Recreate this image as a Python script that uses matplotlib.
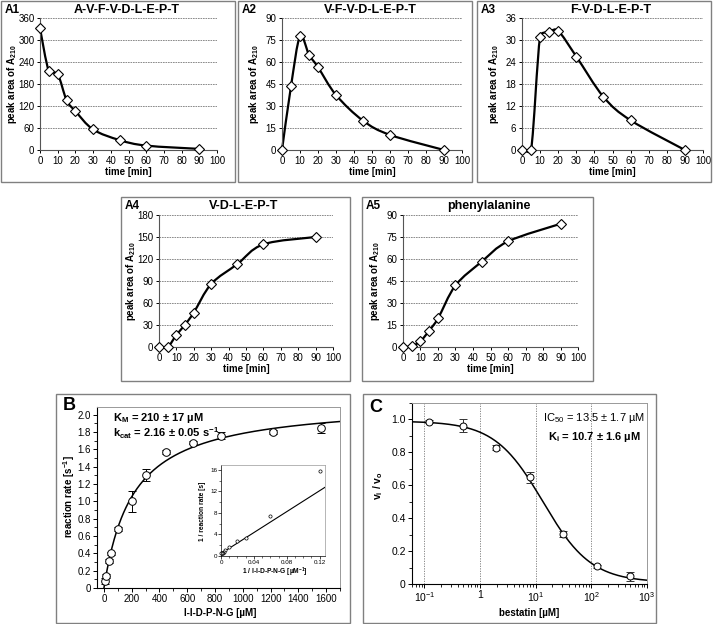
import matplotlib
matplotlib.use("Agg")
import matplotlib.pyplot as plt
import numpy as np
from matplotlib.patches import Rectangle, PathPatch
from matplotlib.path import Path
from matplotlib.ticker import MultipleLocator, FixedLocator, FixedFormatter

plt.rcParams['font.family'] = ['Liberation Sans', 'DejaVu Sans']
plt.rcParams['mathtext.fontset'] = 'custom'
plt.rcParams['mathtext.rm'] = 'Liberation Sans'
plt.rcParams['mathtext.it'] = 'Liberation Sans:italic'
plt.rcParams['mathtext.bf'] = 'Liberation Sans:bold'

# ---- data: panels A1-A5 (time course, peak area of A210)
time_min = [0, 5, 10, 15, 20, 30, 45, 60, 90]
a1_area = [332, 215, 207, 136, 106, 56, 27, 12, 3]
a2_area = [0, 43.5, 77.4, 65, 56.5, 37.5, 20, 10.3, 0]
a3_area = [0, 0, 30.9, 32.3, 32.5, 25.5, 14.5, 8.1, 0]
a4_area = [0, 0, 16.5, 30.5, 47, 86, 113, 140, 150]
a5_area = [0, 0.5, 4, 11.2, 19.5, 42, 58.2, 72, 84]

a_titles = ['A-V-F-V-D-L-E-P-T', 'V-F-V-D-L-E-P-T', 'F-V-D-L-E-P-T',
            'V-D-L-E-P-T', 'phenylalanine']
a_names = ['A1', 'A2', 'A3', 'A4', 'A5']
a_ymax = [360, 90, 36, 180, 90]
a_ystep = [60, 15, 6, 30, 15]

# ---- data: panel B (Michaelis-Menten)
substrate_uM = [8, 16, 33, 50, 100, 200, 300, 450, 640, 840, 1220, 1560]
rate = [0.08, 0.14, 0.31, 0.40, 0.68, 1.00, 1.30, 1.57, 1.68, 1.76, 1.80, 1.85]
rate_err = [0.03, 0.02, 0.02, 0.02, 0.02, 0.12, 0.07, 0.02, 0.02, 0.04, 0.02, 0.06]
KM = 210.0
kcat = 2.16
inv_substrate = [0.12, 0.06, 0.03, 0.02, 0.01, 0.005, 0.0033, 0.0022, 0.0016, 0.0012, 0.0008, 0.0006]
inv_rate = [15.7, 7.5, 3.3, 2.7, 1.6, 1.05, 0.8, 0.65, 0.6, 0.57, 0.55, 0.54]

# ---- data: panel C (inhibition by bestatin)
bestatin_uM = [0.122, 0.49, 1.95, 7.8, 31.25, 125, 500]
vi_vo = [0.986, 0.962, 0.828, 0.648, 0.305, 0.107, 0.046]
vi_vo_err = [0.01, 0.04, 0.015, 0.035, 0.02, 0.01, 0.025]
IC50 = 13.5

W, H = 713, 624
fig = plt.figure(figsize=(W / 100, H / 100), dpi=100)


def add_ax(l, t, r, b):
    return fig.add_axes([l / W, 1 - b / H, (r - l) / W, (b - t) / H])


def box(l, t, r, b):
    fig.add_artist(Rectangle((l / W, 1 - b / H), (r - l) / W, (b - t) / H,
                             transform=fig.transFigure, fill=False,
                             ec='#808080', lw=1.0))


def ftext(x, y, s, **kw):
    kw.setdefault('va', 'center')
    fig.text(x / W, 1 - y / H, s, **kw)


def smooth_line(ax, x, y):
    # spreadsheet-like smoothed line: Bezier in screen space, handles
    # limited to half of the segment so short steps don't overshoot
    p = ax.transData.transform(np.column_stack([x, y]).astype(float))
    n = len(p)

    def handle(a, b, seg):
        t = (b - a) / 6.0
        L = np.hypot(*t)
        m = 0.5 * np.hypot(*seg)
        if L > m and L > 0:
            t = t * m / L
        return t

    verts = [p[0]]
    codes = [Path.MOVETO]
    for i in range(n - 1):
        p0 = p[i - 1] if i > 0 else p[i]
        p3 = p[i + 2] if i + 2 < n else p[i + 1]
        seg = p[i + 1] - p[i]
        c1 = p[i] + handle(p0, p[i + 1], seg)
        c2 = p[i + 1] - handle(p[i], p3, seg)
        verts += [c1, c2, p[i + 1]]
        codes += [Path.CURVE4] * 3
    verts = ax.transData.inverted().transform(np.array(verts))
    ax.add_patch(PathPatch(Path(verts, codes), fill=False, lw=1.6,
                           ec='black', zorder=2, clip_on=False))


# panel A layout in pixels
a_axes_px = [(40, 18, 217, 150), (282, 18, 462, 150), (522, 18, 703, 150),
             (159, 215, 333, 347), (403, 215, 578, 347)]
a_box_px = [(1, 1, 235, 182), (238, 1, 472, 182), (477, 1, 711, 182),
            (121, 197, 350, 381), (362, 197, 593, 381)]
a_series = [a1_area, a2_area, a3_area, a4_area, a5_area]

for k in range(5):
    l, t, r, b = a_axes_px[k]
    box(*a_box_px[k])
    ax = add_ax(l, t, r, b)
    ax.set_xlim(0, 100)
    ax.set_ylim(0, a_ymax[k])
    smooth_line(ax, time_min, a_series[k])
    ax.plot(time_min, a_series[k], 'D', ms=4.6, mfc='white', mec='black',
            mew=0.8, zorder=3, clip_on=False)
    ax.xaxis.set_major_locator(MultipleLocator(10))
    ax.yaxis.set_major_locator(MultipleLocator(a_ystep[k]))
    ax.yaxis.grid(True, ls=(0, (2, 1)), color='#7a7a7a', lw=0.6)
    ax.set_axisbelow(True)
    for s in ['top', 'right']:
        ax.spines[s].set_visible(False)
    for s in ['left', 'bottom']:
        ax.spines[s].set_linewidth(0.8)
        ax.spines[s].set_color('#555555')
    ax.tick_params(direction='out', length=2.5, width=0.7, pad=1.5,
                   labelsize=7, colors='black')
    bl, bt, br, bb = a_box_px[k]
    ftext(bl + 4, bt + 9, a_names[k], fontsize=8.5, fontweight='bold', ha='left')
    ftext((l + r) / 2 - 2, bt + 9, a_titles[k], fontsize=9,
          fontweight='bold', ha='center')
    ftext(l - 28, (t + b) / 2, r'peak area of A$_\mathbf{210}$', fontsize=7,
          fontweight='bold', rotation=90, ha='center')
    ftext((l + r) / 2, b + 22, 'time [min]', fontsize=7, fontweight='bold',
          ha='center')

# ---- panel B
box(56, 394, 350, 623)
axB = add_ax(97, 407, 340, 588)
s_fit = np.linspace(0, 1700, 300)
axB.plot(s_fit, kcat * s_fit / (KM + s_fit), color='black', lw=1.1, zorder=2)
axB.errorbar(substrate_uM, rate, yerr=rate_err, fmt='o', ms=5.5, mfc='white',
             mec='black', mew=0.7, ecolor='black', elinewidth=0.7, capsize=3,
             capthick=0.7, zorder=3, clip_on=False)
axB.set_xlim(-50, 1700)
axB.set_ylim(0, 2.09)
axB.xaxis.set_major_locator(MultipleLocator(200))
axB.xaxis.set_minor_locator(MultipleLocator(100))
axB.yaxis.set_major_locator(MultipleLocator(0.2))
axB.yaxis.set_minor_locator(MultipleLocator(0.1))
axB.yaxis.set_major_formatter(plt.FuncFormatter(lambda v, p: '0' if abs(v) < 1e-9 else f'{v:.1f}'))
axB.tick_params(which='major', direction='out', length=3, width=0.7, pad=1.5, labelsize=7)
axB.tick_params(which='minor', direction='out', length=2, width=0.6)
for s in ['top', 'right']:
    axB.spines[s].set_color('#999999')
    axB.spines[s].set_linewidth(0.7)
for s in ['left', 'bottom']:
    axB.spines[s].set_linewidth(0.8)
ftext(63, 406, 'B', fontsize=13, fontweight='bold', ha='left')
ftext(113, 418, r'K$_\mathbf{M}$ = 210 ± 17 µM', fontsize=8, fontweight='bold', ha='left')
ftext(113, 433, r'k$_\mathbf{cat}$ = 2.16 ± 0.05 s$^\mathbf{-1}$', fontsize=8,
      fontweight='bold', ha='left')
ftext(69, 497, r'reaction rate [s$^\mathbf{-1}$]', fontsize=7, fontweight='bold',
      rotation=90, ha='center')
ftext(220, 613, 'I-I-D-P-N-G [µM]', fontsize=7, fontweight='bold', ha='center')

# inset: double reciprocal plot
axI = add_ax(221, 465, 325, 556)
inv_fit = np.linspace(0, 0.1265, 50)
axI.plot(inv_fit, 1 / kcat + KM / kcat * inv_fit, color='black', lw=0.8)
axI.plot(inv_substrate, inv_rate, 'o', ms=2.3, mfc='white', mec='black',
         mew=0.5, clip_on=False)
axI.set_xlim(0, 0.1265)
axI.set_ylim(0, 16.9)
axI.xaxis.set_major_locator(FixedLocator([0, 0.04, 0.08, 0.12]))
axI.xaxis.set_major_formatter(FixedFormatter(['0', '0.04', '0.08', '0.12']))
axI.xaxis.set_minor_locator(MultipleLocator(0.01))
axI.yaxis.set_major_locator(MultipleLocator(4))
axI.yaxis.set_minor_locator(MultipleLocator(2))
axI.tick_params(which='major', direction='out', length=2, width=0.5, pad=0.8, labelsize=4.5)
axI.tick_params(which='minor', direction='out', length=1.2, width=0.4)
for s in ['top', 'right']:
    axI.spines[s].set_color('#999999')
for s in axI.spines.values():
    s.set_linewidth(0.5)
ftext(203, 511, '1 / reaction rate [s]', fontsize=4.8, fontweight='bold',
      rotation=90, ha='center')
ftext(275, 572, r'1 / I-I-D-P-N-G [µM$^\mathbf{-1}$]', fontsize=4.8,
      fontweight='bold', ha='center')

# ---- panel C
box(363, 394, 656, 623)
axC = add_ax(412, 403, 647, 584)
b_fit = np.logspace(np.log10(0.06), 3, 300)
axC.plot(b_fit, 0.01 + 0.98 / (1 + b_fit / IC50), color='black', lw=1.1, zorder=2)
axC.errorbar(bestatin_uM, vi_vo, yerr=vi_vo_err, fmt='o', ms=5, mfc='white',
             mec='black', mew=0.7, ecolor='#333333', elinewidth=0.7, capsize=3,
             capthick=0.7, zorder=3)
axC.set_xscale('log')
axC.set_xlim(0.06, 1000)
axC.set_ylim(0, 1.1)
axC.xaxis.set_major_locator(FixedLocator([0.1, 1, 10, 100, 1000]))
axC.xaxis.set_major_formatter(FixedFormatter([r'$\mathregular{10^{-1}}$', '1',
                                              r'$\mathregular{10^{1}}$',
                                              r'$\mathregular{10^{2}}$',
                                              r'$\mathregular{10^{3}}$']))
for xv in [0.1, 1, 10, 100]:
    axC.axvline(xv, color='#777777', ls=(0, (1.5, 1.5)), lw=0.6, zorder=1)
axC.yaxis.set_major_locator(MultipleLocator(0.2))
axC.yaxis.set_minor_locator(MultipleLocator(0.1))
axC.yaxis.set_major_formatter(plt.FuncFormatter(lambda v, p: '0' if abs(v) < 1e-9 else f'{v:.1f}'))
axC.tick_params(which='major', direction='out', length=3, width=0.7, pad=1.5, labelsize=7.5)
axC.tick_params(which='minor', direction='out', length=2, width=0.6)
for s in ['top', 'right']:
    axC.spines[s].set_color('#999999')
    axC.spines[s].set_linewidth(0.7)
for s in ['left', 'bottom']:
    axC.spines[s].set_linewidth(0.8)
ftext(369, 407, 'C', fontsize=13, fontweight='bold', ha='left')
ftext(594, 418, r'IC$_{50}$ = 13.5 ± 1.7 µM', fontsize=8, ha='center')
ftext(594, 437, r'K$_\mathbf{i}$ = 10.7 ± 1.6 µM', fontsize=8, fontweight='bold',
      ha='center')
ftext(378, 486, r'v$_\mathbf{i}$ / v$_\mathbf{o}$', fontsize=7.5, fontweight='bold',
      rotation=90, ha='center')
ftext(529, 613, 'bestatin [µM]', fontsize=7, fontweight='bold', ha='center')

fig.savefig('out.png', dpi=100)
